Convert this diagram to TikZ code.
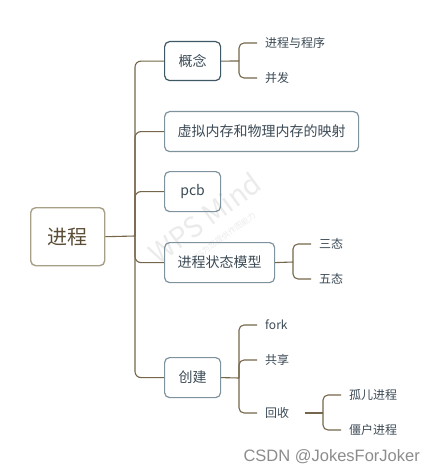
\documentclass[tikz,border=0pt]{standalone}
\usepackage{fontspec}
\setmainfont{Noto Sans CJK SC}
\newfontfamily\csdnfont{Liberation Sans}
\definecolor{linec}{HTML}{75654A}
\definecolor{boxb}{HTML}{7E939E}
\definecolor{boxdark}{HTML}{3F5866}
\definecolor{txt}{HTML}{3B4A55}
\definecolor{roottxt}{HTML}{5A4C35}
\definecolor{rootb}{HTML}{A89F88}
\tikzset{
  conn/.style={draw=linec, line width=1.1pt},
  boxn/.style={draw=boxb, line width=1.2pt, rounded corners=5pt, text=txt,
    font=\fontsize{14}{16}\selectfont, minimum height=40pt, anchor=north west, inner sep=0pt},
  leaf/.style={text=txt, font=\fontsize{12}{14}\selectfont, anchor=west, inner xsep=8pt, inner ysep=0pt},
  wm/.style={text=black!8, rotate=36}
}
\begin{document}
\begin{tikzpicture}[x=1pt,y=-1pt]
\useasboundingbox (0,0) rectangle (436,473);
% watermark
\node[wm, font=\fontsize{28}{28}\selectfont] (wm1) at (205,218) {WPS Mind};
\node[wm, font=\fontsize{8}{8}\selectfont] (wm2) at (222,238) {WPS为您提供作图能力};
% root
\node[draw=rootb, line width=1.4pt, rounded corners=5pt, text=roottxt,
  font=\fontsize{20}{22}\selectfont, minimum width=74pt, minimum height=58pt,
  anchor=north west, inner sep=0pt] (root) at (30,207) {进程};
% level 1 boxes
\node[boxn, draw=boxdark, minimum width=56pt, minimum height=39pt] (g1) at (164,41) {概念};
\node[boxn, minimum width=194pt] (g2) at (164,111) {虚拟内存和物理内存的映射};
\node[boxn, minimum width=56pt] (g3) at (164,171) {pcb};
\node[boxn, minimum width=110pt] (g4) at (164,242) {进程状态模型};
\node[boxn, minimum width=56pt] (g5) at (164,357) {创建};
% trunk
\coordinate (t) at (135,236);
\draw[conn] (root.east) -- (t);
\foreach \g in {g1,g2,g3,g4,g5}{
  \draw[conn, rounded corners=6pt] (t) |- (\g.west);
}
% 概念 children
\node[leaf] (l11) at (257,43) {进程与程序};
\node[leaf] (l12) at (257,78) {并发};
\coordinate (b1) at (239,61);
\draw[conn] (g1.east) -- (b1);
\draw[conn, rounded corners=5pt] (b1) |- (l11.west);
\draw[conn, rounded corners=5pt] (b1) |- (l12.west);
% 进程状态模型 children
\node[leaf] (l41) at (311,244) {三态};
\node[leaf] (l42) at (311,279) {五态};
\coordinate (b4) at (293,262);
\draw[conn] (g4.east) -- (b4);
\draw[conn, rounded corners=5pt] (b4) |- (l41.west);
\draw[conn, rounded corners=5pt] (b4) |- (l42.west);
% 创建 children
\node[leaf] (l51) at (257,325) {fork};
\node[leaf] (l52) at (257,360) {共享};
\node[leaf] (l53) at (257,413) {回收};
\coordinate (b5) at (239,378);
\draw[conn] (g5.east) -- (b5);
\draw[conn, rounded corners=5pt] (b5) |- (l51.west);
\draw[conn, rounded corners=5pt] (b5) |- (l52.west);
\draw[conn, rounded corners=5pt] (b5) |- (l53.west);
% 回收 children
\node[leaf] (l531) at (341,395) {孤儿进程};
\node[leaf] (l532) at (341,430) {僵户进程};
\coordinate (s5) at (305,413);
\coordinate (b53) at (323,413);
\draw[conn] (s5) -- (b53);
\draw[conn, rounded corners=5pt] (b53) |- (l531.west);
\draw[conn, rounded corners=5pt] (b53) |- (l532.west);
% credit
\node[text=black!45, font=\csdnfont\fontsize{16.5}{18}\selectfont, anchor=east, inner sep=0pt] (credit) at (420,457) {CSDN @JokesForJoker};
\end{tikzpicture}
\end{document}
